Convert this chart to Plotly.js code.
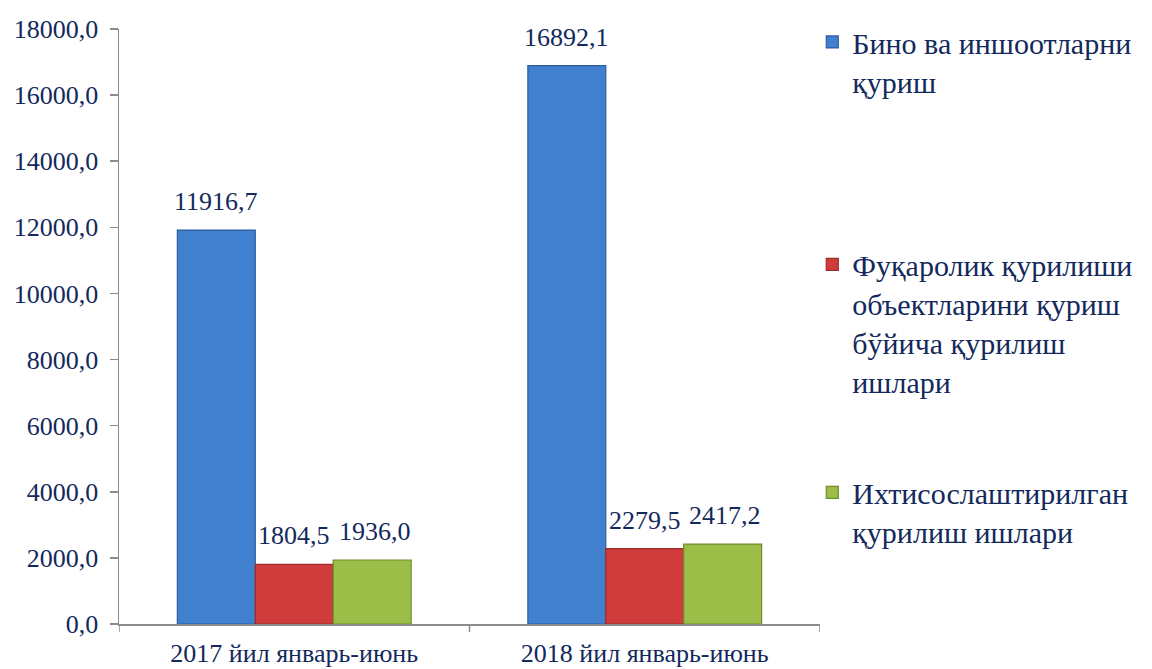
<!DOCTYPE html>
<html>
<head>
<meta charset="utf-8">
<script src="https://cdn.plot.ly/plotly-3.0.1.min.js"></script>
<style>html,body{margin:0;padding:0;background:#fff;}#chart{width:1152px;height:669px;}</style>
</head>
<body>
<div id="chart"></div>
<script>
const categories = ["2017 йил январь-июнь", "2018 йил январь-июнь"];
const seriesNames = [
  "Бино ва иншоотларни<br>қуриш",
  "Фуқаролик қурилиши<br>объектларини қуриш<br>бўйича қурилиш<br>ишлари",
  "Ихтисослаштирилган<br>қурилиш ишлари"
];
const buildings = [11916.7, 16892.1];
const civil = [1804.5, 2279.5];
const specialized = [1936.0, 2417.2];
const yTicks = [0, 2000, 4000, 6000, 8000, 10000, 12000, 14000, 16000, 18000];

const textColor = "#13295C";
const font = "Liberation Serif";
const fills = ["#4080CE", "#D03C3C", "#9CBD48"];
const edges = ["#2C5C9C", "#9B2B2B", "#6E8C2F"];
const seriesValues = [buildings, civil, specialized];
const legendIds = ["legend", "legend2", "legend3"];

const bargap = 0.333;
const barW = (1 - bargap) / 3;

const fmt = v => v.toFixed(1).replace(".", ",");

const traces = seriesValues.map((vals, i) => ({
  type: "bar",
  name: seriesNames[i],
  x: [0, 1],
  y: vals,
  legend: legendIds[i],
  marker: {color: fills[i], line: {color: edges[i], width: 1.2}},
  hoverinfo: "skip"
}));

const annotations = [];
seriesValues.forEach((vals, i) => {
  vals.forEach((v, j) => {
    annotations.push({
      x: j + (i - 1) * barW + (i === 2 ? 0.008 : 0),
      y: v,
      xref: "x", yref: "y",
      text: fmt(v),
      showarrow: false,
      yanchor: "bottom",
      yshift: 12,
      font: {family: font, size: 26, color: textColor}
    });
  });
});

const legendBase = {
  xref: "paper", yref: "paper", x: 0.989, xanchor: "left", yanchor: "top",
  valign: "top",
  bgcolor: "rgba(0,0,0,0)",
  font: {family: font, size: 30, color: textColor}
};

const layout = {
  width: 1152, height: 669,
  margin: {l: 119, r: 332, t: 29, b: 45},
  paper_bgcolor: "#fff", plot_bgcolor: "#fff",
  font: {family: font, color: textColor},
  separators: ", ",
  barmode: "group",
  bargap: bargap,
  bargroupgap: 0,
  showlegend: true,
  legend: Object.assign({}, legendBase, {y: 1.022}),
  legend2: Object.assign({}, legendBase, {y: 0.648}),
  legend3: Object.assign({}, legendBase, {y: 0.265}),
  xaxis: {
    type: "linear",
    range: [-0.5, 1.5],
    tickvals: [0, 1],
    ticktext: categories,
    showgrid: false, zeroline: false,
    showline: true, linecolor: "#8C8C8C", linewidth: 1.5,
    ticks: "",
    ticklabelstandoff: 5,
    tickfont: {family: font, size: 26, color: textColor},
    fixedrange: true
  },
  yaxis: {
    range: [0, 18000],
    tickvals: yTicks,
    ticktext: yTicks.map(fmt),
    showgrid: false, zeroline: false,
    showline: true, linecolor: "#8C8C8C", linewidth: 1.5,
    ticks: "outside", ticklen: 8, tickcolor: "#8C8C8C", tickwidth: 1.5,
    ticklabelstandoff: 6,
    tickfont: {family: font, size: 26, color: textColor},
    fixedrange: true
  },
  shapes: [-0.5, 0.5, 1.5].map(b => ({
    type: "line", xref: "x", yref: "paper", x0: b, x1: b,
    ysizemode: "pixel", yanchor: 0, y0: 0, y1: -8,
    line: {color: "#8C8C8C", width: 1.5}, layer: "above"
  })),
  annotations: annotations
};

Plotly.newPlot("chart", traces, layout, {displayModeBar: false, staticPlot: true});
</script>
</body>
</html>
